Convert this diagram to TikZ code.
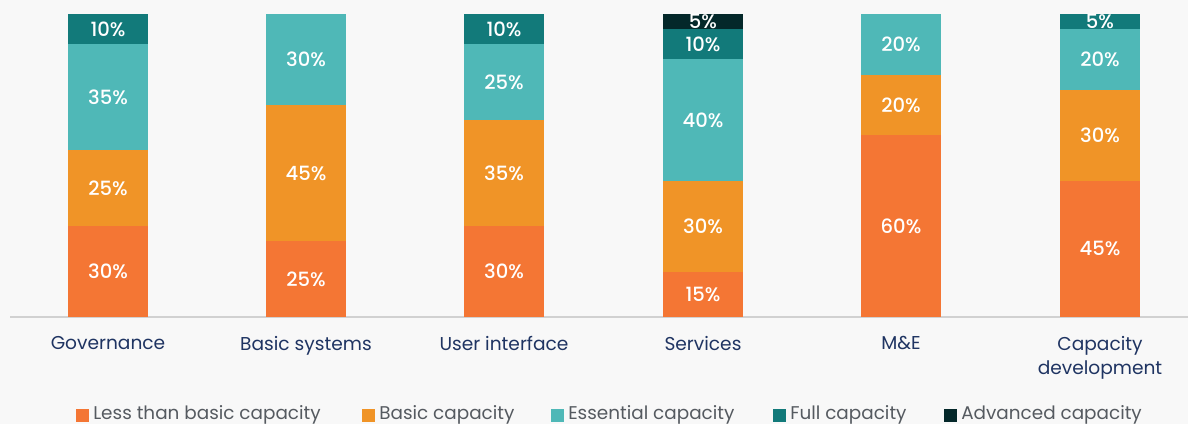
\documentclass[tikz,border=0pt]{standalone}
\usepackage{fontspec}
\setmainfont{Poppins}
\newfontfamily\pctfont{Poppins Medium}
\usepackage{tikz}
\usetikzlibrary{calc}
\usetikzlibrary{positioning}
\definecolor{bg}{HTML}{F8F8F8}
\definecolor{lessbasic}{HTML}{F47634}
\definecolor{basic}{HTML}{F09427}
\definecolor{essential}{HTML}{4FB8B7}
\definecolor{full}{HTML}{127A7A}
\definecolor{advanced}{HTML}{04282A}
\definecolor{navy}{HTML}{1F3462}
\definecolor{legtext}{HTML}{555A60}
\tikzstyle{pct} = [draw = none, inner sep = 0, text = white, font = \pctfont\fontsize{9.8}{10}\selectfont]
\tikzstyle{cat} = [draw = none, inner sep = 0, anchor = north, align = center, text = navy, font = \fontsize{9.3}{12}\selectfont]
\tikzstyle{key} = [rectangle, draw = none, inner sep = 0, minimum size = 6.5pt]
\tikzstyle{keytext} = [draw = none, inner sep = 0, text = legtext, font = \fontsize{9.2}{10}\selectfont]
% name, centre x, from %, to %, colour, label
\newcommand{\capseg}[6]{%
\fill [#5] ({#2-40}, {107+3.03*#3}) rectangle ({#2+40}, {107+3.03*#4});
\node [pct] (#1) at (#2, {107+1.515*(#3+#4)}) {#6};
}

\begin{document}
\begin{tikzpicture}[x = 0.5pt, y = 0.5pt]
\fill [bg] (0, 0) rectangle (1188, 424);
\useasboundingbox (0, 0) rectangle (1188, 424);
\draw [draw = black!18, line width = 0.6pt] (10, 107) -- (1188, 107);

% Governance
\capseg{G1}{108}{0}{30}{lessbasic}{30\%}
\capseg{G2}{108}{30}{55}{basic}{25\%}
\capseg{G3}{108}{55}{90}{essential}{35\%}
\capseg{G4}{108}{90}{100}{full}{10\%}
% Basic systems
\capseg{B1}{306}{0}{25}{lessbasic}{25\%}
\capseg{B2}{306}{25}{70}{basic}{45\%}
\capseg{B3}{306}{70}{100}{essential}{30\%}
% User interface
\capseg{U1}{504}{0}{30}{lessbasic}{30\%}
\capseg{U2}{504}{30}{65}{basic}{35\%}
\capseg{U3}{504}{65}{90}{essential}{25\%}
\capseg{U4}{504}{90}{100}{full}{10\%}
% Services
\capseg{S1}{703}{0}{15}{lessbasic}{15\%}
\capseg{S2}{703}{15}{45}{basic}{30\%}
\capseg{S3}{703}{45}{85}{essential}{40\%}
\capseg{S4}{703}{85}{95}{full}{10\%}
\capseg{S5}{703}{95}{100}{advanced}{5\%}
% M&E
\capseg{M1}{901}{0}{60}{lessbasic}{60\%}
\capseg{M2}{901}{60}{80}{basic}{20\%}
\capseg{M3}{901}{80}{100}{essential}{20\%}
% Capacity development
\capseg{C1}{1100}{0}{45}{lessbasic}{45\%}
\capseg{C2}{1100}{45}{75}{basic}{30\%}
\capseg{C3}{1100}{75}{95}{essential}{20\%}
\capseg{C4}{1100}{95}{100}{full}{5\%}

\node [cat] (gov) at (108, 88) {Governance};
\node [cat] (bas) at (306, 88) {Basic systems};
\node [cat] (usr) at (504, 88) {User interface};
\node [cat] (ser) at (703, 88) {Services};
\node [cat] (mne) at (901, 88) {M\&E};
\node [cat] (cap) at (1100, 88) {Capacity\\development};

\node [key, fill = lessbasic] (k1) at (82, 9) {};
\node [keytext, right = 2pt of k1] (t1) {Less than basic capacity};
\node [key, fill = basic] (k2) at (368, 9) {};
\node [keytext, right = 2pt of k2] (t2) {Basic capacity};
\node [key, fill = essential] (k3) at (557, 9) {};
\node [keytext, right = 2pt of k3] (t3) {Essential capacity};
\node [key, fill = full] (k4) at (779, 9) {};
\node [keytext, right = 2pt of k4] (t4) {Full capacity};
\node [key, fill = advanced] (k5) at (950, 9) {};
\node [keytext, right = 2pt of k5] (t5) {Advanced capacity};
\end{tikzpicture}
\end{document}
